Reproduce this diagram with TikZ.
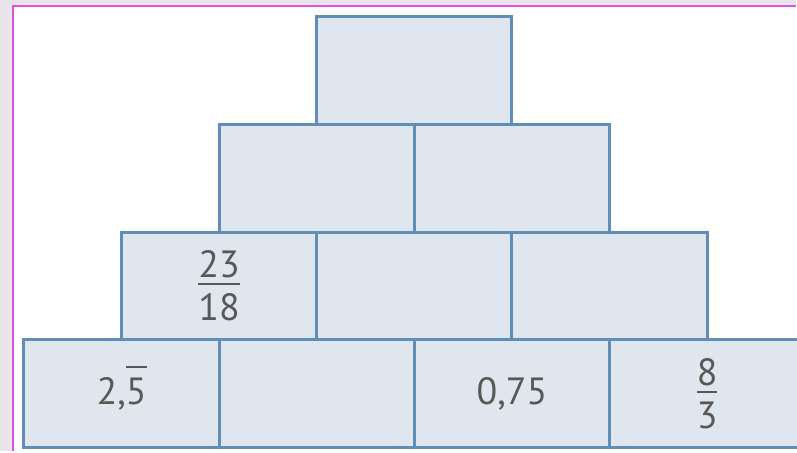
\documentclass[tikz,border=0pt]{standalone}
\usepackage{fontspec}
\setmainfont{PT Sans}
\definecolor{bg}{RGB}{233,228,234}
\definecolor{framecol}{RGB}{222,80,222}
\definecolor{cellfill}{RGB}{223,230,238}
\definecolor{celldraw}{RGB}{96,142,184}
\definecolor{txt}{RGB}{88,88,88}
\newcommand\myfrac[2]{%
  \setbox0\hbox{#1}\setbox2\hbox{#2}%
  \dimen0=\ifdim\wd0>\wd2 \wd0\else\wd2\fi
  \raisebox{-3pt}{\vbox{\offinterlineskip\halign{\hfil##\hfil\cr
    \box0\cr\noalign{\kern5pt}
    \vrule width\dimen0 height 2pt\cr\noalign{\kern9pt}
    \box2\cr}}}}
\newcommand\repdig[1]{\setbox4\hbox{#1}\rlap{\smash{\rule[36pt]{\wd4}{2pt}}}\box4}
\begin{document}
\begin{tikzpicture}[x=1pt,y=-1pt,
  cell/.style={draw=celldraw, fill=cellfill, line width=3pt,
    minimum width=195.5pt, minimum height=107.75pt, inner sep=0pt,
    outer sep=0pt, text=txt, font=\fontsize{38}{44}\selectfont}]
\fill[bg] (0,0) rectangle (797,452);
\fill[white] (13,6) rectangle (797,452);
\draw[framecol, line width=2.5pt] (13,452) -- (13,6) -- (797,6);
\useasboundingbox (0,0) rectangle (797,452);
% row 1
\node[cell, anchor=north west] (a1) at (317.25,17) {};
% row 2
\node[cell, anchor=north west] (b1) at (219.5,124.75) {};
\node[cell, anchor=north west] (b2) at (415,124.75) {};
% row 3
\node[cell, anchor=north west] (c1) at (121.75,232.5) {\myfrac{23}{18}};
\node[cell, anchor=north west] (c2) at (317.25,232.5) {};
\node[cell, anchor=north west] (c3) at (512.75,232.5) {};
% row 4
\node[cell, anchor=north west] (d1) at (24,340.25) {2,\repdig{5}};
\node[cell, anchor=north west] (d2) at (219.5,340.25) {};
\node[cell, anchor=north west] (d3) at (415,340.25) {0,75};
\node[cell, anchor=north west] (d4) at (610.5,340.25) {\myfrac{8}{3}};
\end{tikzpicture}
\end{document}
